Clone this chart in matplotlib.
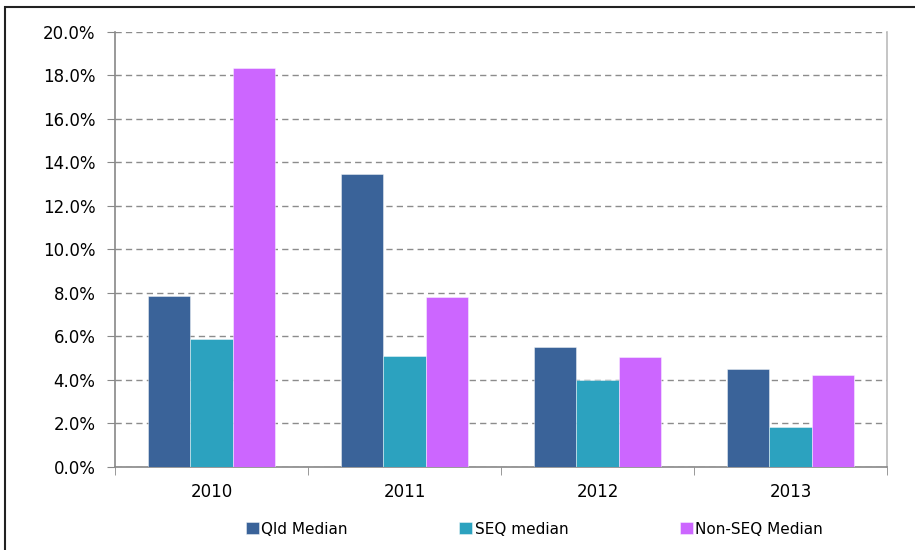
import matplotlib
matplotlib.use('Agg')
import matplotlib.pyplot as plt
from matplotlib.patches import Rectangle
from matplotlib.ticker import FuncFormatter, MultipleLocator
import numpy as np

# chart data
years = ['2010', '2011', '2012', '2013']
qld_median = [7.87, 13.47, 5.50, 4.49]
seq_median = [5.87, 5.08, 3.99, 1.83]
non_seq_median = [18.32, 7.80, 5.05, 4.22]

series = [('Qld Median', qld_median, '#3A6399'),
          ('SEQ median', seq_median, '#2CA2BF'),
          ('Non-SEQ Median', non_seq_median, '#CC66FF')]

W, H = 915, 550
fig = plt.figure(figsize=(W / 100, H / 100), dpi=100)

# outer frame
fig.patches.append(Rectangle((5 / W, -0.1), 1.2, (H - 7) / H + 0.1,
                             transform=fig.transFigure, fill=False,
                             edgecolor='#222222', linewidth=1.5))

ax = fig.add_axes([115 / W, (H - 466.5) / H, (887 - 115) / W, (466.5 - 32) / H])

x = np.arange(len(years))
bw = 0.221
for i, (name, vals, col) in enumerate(series):
    ax.bar(x + (i - 1) * bw, vals, width=bw, color=col, label=name,
           edgecolor=(1, 1, 1, 0.5), linewidth=0.6, zorder=3)

ax.set_xlim(-0.5, len(years) - 0.5)
ax.set_ylim(0, 20)
ax.yaxis.set_major_locator(MultipleLocator(2))
ax.yaxis.set_major_formatter(FuncFormatter(lambda v, p: '%.1f%%' % v))
ax.grid(axis='y', color='#8c8c8c', linestyle=(0, (4.5, 3)), linewidth=1, zorder=0)

ax.set_xticks(x)
ax.set_xticklabels(years)
ax.set_xticks(np.arange(-0.5, len(years)), minor=True)
ax.tick_params(axis='x', which='major', length=0, pad=12, labelsize=12)
ax.tick_params(axis='x', which='minor', length=6, color='#888888', direction='out')
ax.tick_params(axis='y', length=6, color='#888888', direction='out', pad=8, labelsize=12)

for s in ['left', 'bottom']:
    ax.spines[s].set_color('#888888')
    ax.spines[s].set_linewidth(1.2)
ax.spines['right'].set_color('#bbbbbb')
ax.spines['right'].set_linewidth(1.2)
ax.spines['top'].set_visible(False)

fig.legend(loc='center', bbox_to_anchor=(0.584, (H - 529) / H), ncol=3,
           frameon=False, fontsize=11, handlelength=0.85, handleheight=0.85,
           handletextpad=0.15, columnspacing=7.3)

fig.savefig('out.png', dpi=100)
